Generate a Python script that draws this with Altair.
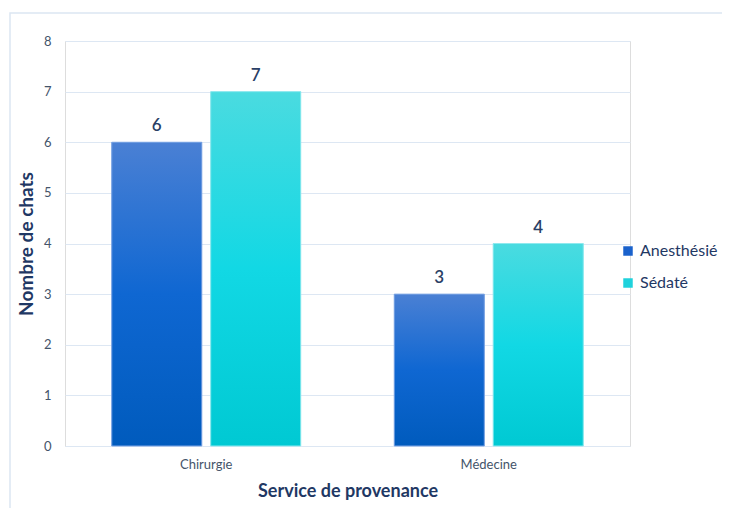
import altair as alt
import pandas as pd

categories = ["Chirurgie", "Médecine"]
series = ["Anesthésié", "Sédaté"]
anesthesie = [6, 3]
sedate = [7, 4]

rows = []
for i, c in enumerate(categories):
    rows.append({"service": c, "groupe": series[0], "n": anesthesie[i]})
    rows.append({"service": c, "groupe": series[1], "n": sedate[i]})
df = pd.DataFrame(rows)

FONT = "Lato"
NAVY = "#1f3864"

x_enc = alt.X("service:N", sort=categories,
              scale=alt.Scale(paddingInner=0.331, paddingOuter=0.1655),
              axis=alt.Axis(title="Service de provenance", labelAngle=0, labelFontSize=13,
                            labelColor="#44546a", labelPadding=12, titleFontSize=18,
                            titleFontWeight="bold", titleColor=NAVY, titlePadding=11,
                            domain=False, ticks=False, grid=False, labelFont=FONT, titleFont=FONT))
xo_enc = alt.XOffset("groupe:N", sort=series,
                     scale=alt.Scale(domain=series, paddingInner=0.09, paddingOuter=0))
y_enc = alt.Y("n:Q", scale=alt.Scale(domain=[0, 8], nice=False),
              axis=alt.Axis(title="Nombre de chats", values=list(range(0, 9)), labelFontSize=13,
                            labelColor="#44546a", labelPadding=14, titleFontSize=19,
                            titleFontWeight="bold", titleColor=NAVY, titlePadding=7,
                            domain=False, ticks=False, gridColor="#dde7f3", gridWidth=1,
                            labelFont=FONT, titleFont=FONT))

base = alt.Chart(df)

legend_bars = base.mark_bar().encode(
    x=x_enc, xOffset=xo_enc, y=y_enc,
    color=alt.Color("groupe:N", sort=series,
                    scale=alt.Scale(domain=series, range=["#1a62cc", "#1fd2dc"]),
                    legend=alt.Legend(title=None, orient="none", legendX=555, legendY=202,
                                      symbolType="square", symbolSize=90, symbolStrokeWidth=0,
                                      labelFontSize=16, labelColor=NAVY, labelFont=FONT,
                                      rowPadding=16, labelOffset=4, labelLimit=200)),
)

blue_grad = alt.Gradient(gradient="linear", x1=0, y1=0, x2=0, y2=1,
                         stops=[alt.GradientStop(color="#4a80d4", offset=0),
                                alt.GradientStop(color="#0f67d2", offset=0.5),
                                alt.GradientStop(color="#005bbd", offset=1)])
cyan_grad = alt.Gradient(gradient="linear", x1=0, y1=0, x2=0, y2=1,
                         stops=[alt.GradientStop(color="#4adbe0", offset=0),
                                alt.GradientStop(color="#12d8e4", offset=0.5),
                                alt.GradientStop(color="#00c9d3", offset=1)])

blue_bars = base.transform_filter(alt.datum.groupe == series[0]).mark_bar(
    fill=blue_grad, stroke="#7ea6e4", strokeWidth=1).encode(x=x_enc, xOffset=xo_enc, y=y_enc)
cyan_bars = base.transform_filter(alt.datum.groupe == series[1]).mark_bar(
    fill=cyan_grad, stroke="#8fe9ee", strokeWidth=1).encode(x=x_enc, xOffset=xo_enc, y=y_enc)

labels = base.mark_text(dy=-7, baseline="bottom", fontSize=17, fontWeight=600,
                        color="#2a3f66", font=FONT).encode(
    x=x_enc, xOffset=xo_enc, y=y_enc, text="n:Q")

frame = alt.Chart(alt.Data(values=[{}])).mark_rect(
    fill=None, stroke="#dce6f2", strokeWidth=1.5).encode(
    x=alt.value(-55), x2=alt.value(900), y=alt.value(-28), y2=alt.value(700))

chart = alt.layer(frame, legend_bars, blue_bars, cyan_bars, labels).properties(
    width=565, height=405,
    autosize=alt.AutoSizeParams(type="none"),
    padding={"left": 57, "top": 33, "right": 92, "bottom": 62},
).configure_view(stroke="transparent", strokeWidth=0).configure(font=FONT)

chart.save("out.html", embed_options={"renderer": "svg", "actions": False})
